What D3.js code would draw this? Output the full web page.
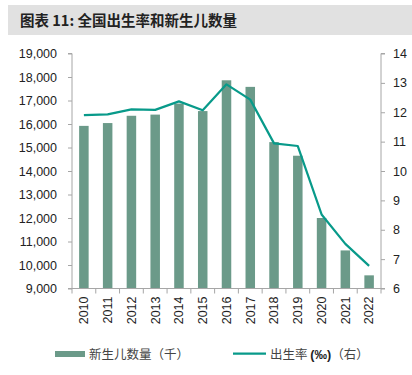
<!DOCTYPE html>
<html><head><meta charset="utf-8">
<script src="https://cdn.jsdelivr.net/npm/d3@7"></script>
<style>body{margin:0;background:#fff;}svg{display:block;font-family:"Liberation Sans",Arial,sans-serif;}</style>
</head><body>
<svg id="c" width="412" height="375"></svg>
<script>
const years = ["2010","2011","2012","2013","2014","2015","2016","2017","2018","2019","2020","2021","2022"];
const births = [15920,16040,16350,16400,16870,16550,17860,17580,15230,14650,12000,10620,9560];
const birthRate = [11.90,11.93,12.10,12.08,12.37,12.07,12.95,12.43,10.94,10.85,8.52,7.52,6.77];
const leftTicks = [9000,10000,11000,12000,13000,14000,15000,16000,17000,18000,19000];
const rightTicks = [6,7,8,9,10,11,12,13,14];

const svg = d3.select("#c");
const L = 72, R = 381, T = 53.5, B = 288.5;
const axisColor = "#a6a6a6";

// title
svg.append("rect").attr("x",8).attr("y",5).attr("width",404).attr("height",30).attr("fill","#e1e1e1");
svg.append("text").attr("x",20).attr("y",26).attr("font-size",14.5).attr("font-weight","bold")
  .attr("fill","#222").attr("font-family","'Noto Sans CJK SC','Liberation Sans',sans-serif")
  .text("图表 11: 全国出生率和新生儿数量");

const x = d3.scaleBand().domain(years).range([L,R]).paddingInner(0.6).paddingOuter(0.3);
const yL = d3.scaleLinear().domain([9000,19000]).range([B,T]);
const yR = d3.scaleLinear().domain([6,14]).range([B,T]);

// bars
svg.append("g").selectAll("rect").data(years).join("rect")
  .attr("x",d=>x(d)).attr("width",x.bandwidth())
  .attr("y",(d,i)=>yL(births[i])).attr("height",(d,i)=>B-yL(births[i]))
  .attr("fill","#6b9a89");

// line
const line = d3.line().x((d,i)=>x(years[i])+x.bandwidth()/2).y(d=>yR(d));
svg.append("path").datum(birthRate).attr("d",line).attr("fill","none")
  .attr("stroke","#089a8a").attr("stroke-width",2.2).attr("stroke-linejoin","round");

// left axis
const gl = svg.append("g").attr("transform",`translate(${L},0)`)
  .call(d3.axisLeft(yL).tickValues(leftTicks).tickFormat(d3.format(",")).tickSize(4).tickPadding(11));
// right axis
const gr = svg.append("g").attr("transform",`translate(${R},0)`)
  .call(d3.axisRight(yR).tickValues(rightTicks).tickSize(4).tickPadding(8));
// bottom axis
const gb = svg.append("g").attr("transform",`translate(0,${B})`)
  .call(d3.axisBottom(x).tickSize(0).tickPadding(6));
gb.selectAll(".tick text").attr("transform","rotate(-90)").attr("text-anchor","end")
  .attr("x",-8).attr("y",0).attr("dy","0.35em");
// category boundary ticks
const bounds = d3.range(years.length+1).map(i=>L + i*(R-L)/years.length);
gb.append("g").selectAll("line").data(bounds).join("line")
  .attr("x1",d=>d).attr("x2",d=>d).attr("y1",0).attr("y2",5).attr("stroke",axisColor);

[gl,gr,gb].forEach(g=>{
  g.selectAll(".domain").attr("stroke",axisColor);
  g.selectAll(".tick line").attr("stroke",axisColor);
  g.selectAll(".tick text").attr("font-size",12.5).attr("fill","#222").attr("font-family","'Liberation Sans',Arial,sans-serif");
});
gl.select(".domain").attr("d",`M-4,${T}H0V${B}H-4`);
gr.select(".domain").attr("d",`M4,${T}H0V${B}H4`);
gb.select(".domain").attr("d",`M${L},0H${R}`);

// legend
const lg = svg.append("g").attr("font-family","'Noto Sans CJK SC',sans-serif").attr("font-size",12.5).attr("fill","#444");
lg.append("rect").attr("x",55).attr("y",351).attr("width",30).attr("height",6).attr("fill","#6b9a89");
lg.append("text").attr("x",89).attr("y",358.5).text("新生儿数量（千）");
lg.append("line").attr("x1",233).attr("x2",266).attr("y1",353.7).attr("y2",353.7).attr("stroke","#089a8a").attr("stroke-width",2.2);
const t2 = lg.append("text").attr("x",270).attr("y",358.5);
t2.append("tspan").text("出生率 ");
t2.append("tspan").attr("font-family","'Liberation Sans',Arial,sans-serif").attr("font-weight","bold").attr("fill","#222").text("(‰)");
t2.append("tspan").text("（右）");
</script>
</body></html>
